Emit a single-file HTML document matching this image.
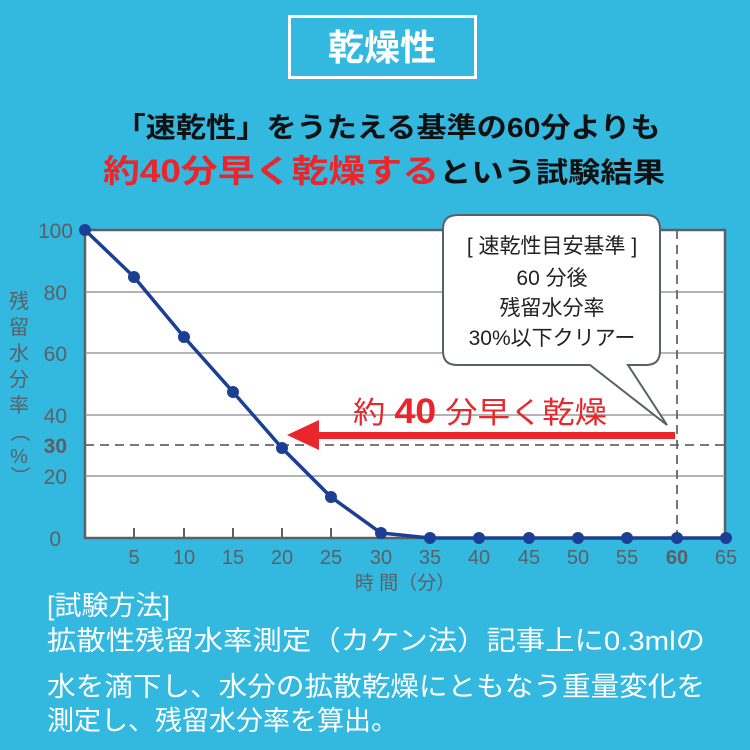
<!DOCTYPE html>
<html><head><meta charset="utf-8"><style>
html,body{margin:0;padding:0;background:#33b9e0;}
svg{display:block}
text{font-family:"Liberation Sans","Noto Sans CJK JP",sans-serif;}
</style></head><body>
<svg width="750" height="750" viewBox="0 0 750 750" xmlns="http://www.w3.org/2000/svg">
<rect width="750" height="750" fill="#33b9e0"/>
<rect x="289.5" y="16.5" width="186" height="61" fill="none" stroke="#fff" stroke-width="3"/>
<text x="382" y="60" font-size="36" font-weight="bold" fill="#fff" text-anchor="middle">乾燥性</text>
<text x="388" y="137" font-size="28" font-weight="bold" fill="#111" text-anchor="middle" textLength="545" lengthAdjust="spacingAndGlyphs">「速乾性」をうたえる基準の60分よりも</text>
<text x="103" y="182" font-size="32" font-weight="bold" textLength="562" lengthAdjust="spacingAndGlyphs"><tspan fill="#e8262c">約40分早く乾燥する</tspan><tspan fill="#111" font-size="28">という試験結果</tspan></text>

<rect x="85" y="230" width="640" height="308" fill="#fff" stroke="#5a6066" stroke-width="2.5"/>
<g stroke="#888" stroke-width="1.3">
<line x1="85" y1="292" x2="725" y2="292"/>
<line x1="85" y1="353" x2="725" y2="353"/>
<line x1="85" y1="415" x2="725" y2="415"/>
<line x1="85" y1="476" x2="725" y2="476"/>
</g>
<line x1="85" y1="445" x2="725" y2="445" stroke="#666" stroke-width="1.8" stroke-dasharray="9,6"/>
<line x1="677" y1="230" x2="677" y2="538" stroke="#666" stroke-width="1.8" stroke-dasharray="9,6"/>
<g stroke="#5a6066" stroke-width="2">
<line x1="134" y1="538" x2="134" y2="528"/><line x1="184" y1="538" x2="184" y2="528"/><line x1="233" y1="538" x2="233" y2="528"/><line x1="282" y1="538" x2="282" y2="528"/><line x1="331" y1="538" x2="331" y2="528"/><line x1="381" y1="538" x2="381" y2="528"/>
</g>
<g font-size="21" fill="#5a6066" text-anchor="end">
<text x="73" y="238">100</text><text x="67" y="300">80</text><text x="67" y="361">60</text><text x="67" y="423">40</text>
<text x="67" y="453" font-weight="bold">30</text><text x="67" y="484">20</text><text x="61" y="546">0</text>
</g>
<g font-size="20" fill="#5a6066" text-anchor="middle">
<text x="19" y="308">残</text><text x="19" y="334">留</text><text x="19" y="360">水</text><text x="19" y="386">分</text><text x="19" y="412">率</text>
<text x="19" y="438" transform="rotate(90 19 432)">（</text><text x="19" y="463">%</text><text x="19" y="482" transform="rotate(90 19 476)">）</text>
</g>
<g font-size="20" fill="#5a6066" text-anchor="middle">
<text x="134" y="564">5</text><text x="184" y="564">10</text><text x="233" y="564">15</text><text x="282" y="564">20</text><text x="331" y="564">25</text><text x="381" y="564">30</text><text x="430" y="564">35</text><text x="479" y="564">40</text><text x="529" y="564">45</text><text x="578" y="564">50</text><text x="627" y="564">55</text><text x="677" y="564" font-weight="bold">60</text><text x="726" y="564">65</text>
<text x="405" y="589" font-size="19">時 間（分）</text>
</g>
<polyline fill="none" stroke="#1c3f94" stroke-width="3.5" points="85,230 134,277 184,337 233,392 282,448 331,497 381,533 430,538 479,538 529,538 578,538 627,538 677,538 726,538"/>
<g fill="#1c3f94">
<circle cx="85" cy="230" r="6"/><circle cx="134" cy="277" r="6"/><circle cx="184" cy="337" r="6"/><circle cx="233" cy="392" r="6"/><circle cx="282" cy="448" r="6"/><circle cx="331" cy="497" r="6"/><circle cx="381" cy="533" r="6"/><circle cx="430" cy="538" r="6"/><circle cx="479" cy="538" r="6"/><circle cx="529" cy="538" r="6"/><circle cx="578" cy="538" r="6"/><circle cx="627" cy="538" r="6"/><circle cx="677" cy="538" r="6"/><circle cx="726" cy="538" r="6"/>
</g>
<path d="M458,215 H646 Q660,215 660,229 V351 Q660,365 646,365 H628 L667,425 L590,365 H457 Q443,365 443,351 V229 Q443,215 458,215 Z" fill="#fff" stroke="#5a6066" stroke-width="2"/>
<g font-size="21" fill="#222" text-anchor="middle">
<text x="552" y="253">[ 速乾性目安基準 ]</text>
<text x="552" y="285">60 分後</text>
<text x="552" y="315">残留水分率</text>
<text x="552" y="345">30%以下クリアー</text>
</g>
<rect x="315" y="432" width="360" height="7" fill="#e8262c"/>
<polygon points="287,435 319,420 319,450" fill="#e8262c"/>
<text x="353" y="423" font-size="30" fill="#e8262c" textLength="254" lengthAdjust="spacingAndGlyphs">約 <tspan font-weight="bold" font-size="35">40</tspan> 分早く乾燥</text>
<g font-size="27" fill="#fff">
<text x="47" y="615">[試験方法]</text>
<text x="47" y="650" textLength="658" lengthAdjust="spacingAndGlyphs">拡散性残留水率測定（カケン法）記事上に0.3mlの</text>
<text x="47" y="696" textLength="658" lengthAdjust="spacingAndGlyphs">水を滴下し、水分の拡散乾燥にともなう重量変化を</text>
<text x="47" y="730">測定し、残留水分率を算出。</text>
</g>
</svg>
</body></html>
